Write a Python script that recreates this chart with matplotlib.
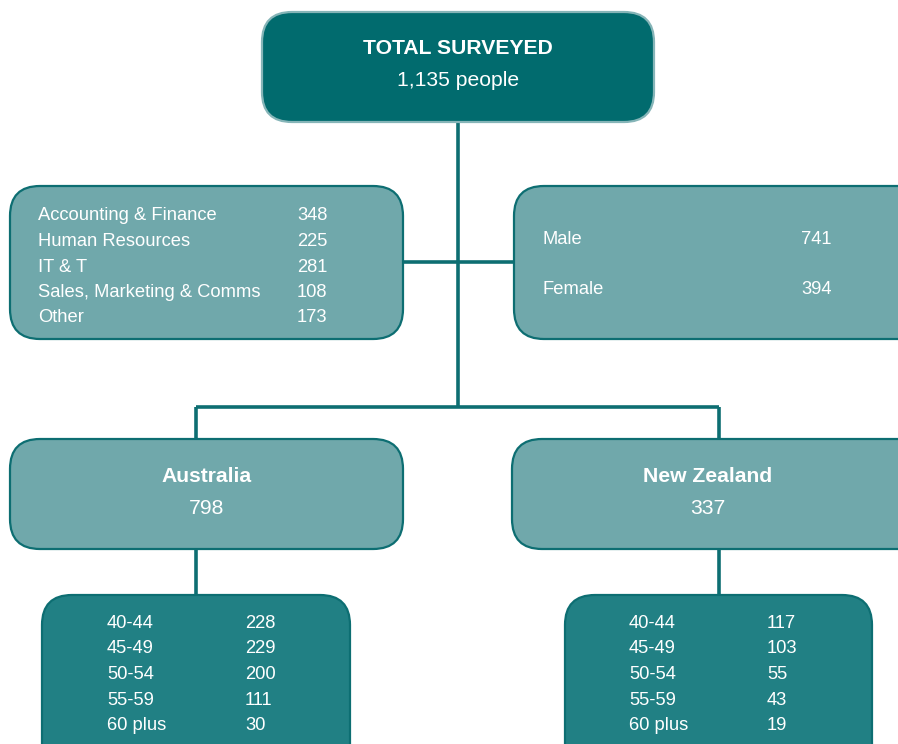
import matplotlib
matplotlib.use("Agg")
import matplotlib.pyplot as plt
from matplotlib.patches import FancyBboxPatch

plt.rcParams['font.family'] = ['Liberation Sans', 'DejaVu Sans']

# ---- data ----
total_label = "TOTAL SURVEYED"
total_people = 1135
departments = ["Accounting & Finance", "Human Resources", "IT & T",
               "Sales, Marketing & Comms", "Other"]
dept_counts = [348, 225, 281, 108, 173]
genders = ["Male", "Female"]
gender_counts = [741, 394]
countries = ["Australia", "New Zealand"]
country_totals = [798, 337]
age_groups = ["40-44", "45-49", "50-54", "55-59", "60 plus"]
au_ages = [228, 229, 200, 111, 30]
nz_ages = [117, 103, 55, 43, 19]

# ---- styles ----
DARK = "#016b6e"
LIGHT = "#70a8ab"
MID = "#218084"
LINE = "#0d6e72"
W, H = 898, 744

fig = plt.figure(figsize=(W / 100, H / 100), dpi=100)
ax = fig.add_axes([0, 0, 1, 1])
ax.set_xlim(0, W)
ax.set_ylim(H, 0)
ax.axis('off')


def box(x0, y0, x1, y1, fc, ec, r=30, lw=1.6):
    p = FancyBboxPatch((x0, y0), x1 - x0, y1 - y0,
                       boxstyle=f"round,pad=0,rounding_size={r}",
                       fc=fc, ec=ec, lw=lw, zorder=2)
    ax.add_patch(p)


def line(xs, ys):
    ax.plot(xs, ys, color=LINE, lw=2.6, solid_capstyle='butt', zorder=1)


# connectors
line([458, 458], [122, 407])
line([403, 514], [262, 262])
line([196, 719], [407, 407])
line([196, 196], [407, 439])
line([719, 719], [407, 439])
line([196, 196], [549, 595])
line([719, 719], [549, 595])

# boxes
box(262, 12, 654, 122, DARK, "#86b5b8", lw=1.6)
box(10, 186, 403, 339, LIGHT, LINE)
box(514, 186, 930, 339, LIGHT, LINE)
box(10, 439, 403, 549, LIGHT, LINE)
box(512, 439, 930, 549, LIGHT, LINE)
box(42, 595, 350, 790, MID, LINE)
box(565, 595, 872, 790, MID, LINE)

tk = dict(color='white', zorder=3, va='center')
FS = 13.2
FL = 15.2

# top
ax.text(458, 48, total_label, ha='center', fontsize=FL, fontweight='bold', **tk)
ax.text(458, 80, f"{total_people:,} people", ha='center', fontsize=FL, **tk)

# departments
for i, (d, c) in enumerate(zip(departments, dept_counts)):
    y = 216 + i * 25.5
    ax.text(38, y, d, ha='left', fontsize=FS, **tk)
    ax.text(297, y, str(c), ha='left', fontsize=FS, **tk)

# genders
for i, (g, c) in enumerate(zip(genders, gender_counts)):
    y = 239 + i * 51
    ax.text(542, y, g, ha='left', fontsize=FS, **tk)
    ax.text(801, y, str(c), ha='left', fontsize=FS, **tk)

# countries
for cx, name, tot in zip([207, 708], countries, country_totals):
    ax.text(cx, 477, name, ha='center', fontsize=FL, fontweight='bold', **tk)
    ax.text(cx, 509, str(tot), ha='center', fontsize=FL, **tk)

# ages
for (lx, nx), vals in zip([(107, 245), (629, 767)], [au_ages, nz_ages]):
    for i, (a, v) in enumerate(zip(age_groups, vals)):
        y = 623 + i * 25.7
        ax.text(lx, y, a, ha='left', fontsize=FS, **tk)
        ax.text(nx, y, str(v), ha='left', fontsize=FS, **tk)

fig.savefig("out.png", dpi=100, facecolor='white')
